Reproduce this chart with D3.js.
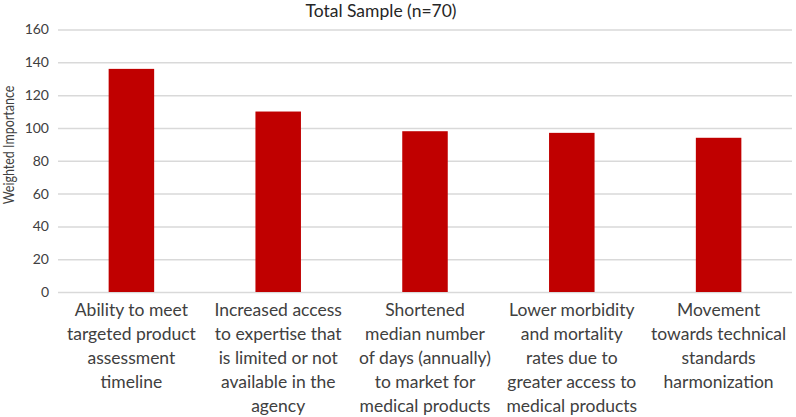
<!DOCTYPE html>
<html><head><meta charset="utf-8">
<script src="https://cdn.jsdelivr.net/npm/d3@7"></script>
<style>body{margin:0;background:#fff}svg{display:block}text{font-family:Lato,"Open Sans",sans-serif;fill:#262626}</style>
</head><body><svg id="c" width="796" height="417"></svg>
<script>
const categories = [
  ["Ability to meet","targeted product","assessment","timeline"],
  ["Increased access","to expertise that","is limited or not","available in the","agency"],
  ["Shortened","median number","of days (annually)","to market for","medical products"],
  ["Lower morbidity","and mortality","rates due to","greater access to","medical products"],
  ["Movement","towards technical","standards","harmonization"]
];
const values = [136, 110, 98, 97, 94];
const yTicks = [0,20,40,60,80,100,120,140,160];
const title = "Total Sample (n=70)";
const yTitle = "Weighted Importance";

(function(){
const svg = d3.select("#c");
const mL = 58, mR = 792, mT = 29.5, mB = 292;
const x = d3.scaleBand().domain(d3.range(values.length)).range([mL, mR]).paddingInner(0.69).paddingOuter(0.345);
const y = d3.scaleLinear().domain([0,160]).range([mB, mT]);

const yAxis = d3.axisLeft(y).tickValues(yTicks).tickSize(-(mR-mL)).tickPadding(9);
const g = svg.append("g").attr("transform",`translate(${mL},0)`).call(yAxis);
g.select(".domain").remove();
g.selectAll(".tick line").attr("stroke","#d9d9d9").attr("stroke-width",1.5);
g.selectAll(".tick text").style("font-size","14px").style("font-family","Lato, sans-serif").style("fill","#404040");

svg.append("g").selectAll("rect").data(values).join("rect")
  .attr("x",(d,i)=>x(i)).attr("width",x.bandwidth())
  .attr("y",d=>y(d)).attr("height",d=>y(0)-y(d))
  .attr("fill","#c00000");

const lab = svg.append("g").selectAll("text").data(categories).join("text")
  .attr("text-anchor","middle").style("font-size","17.5px")
  .style("fill","#404040");
lab.each(function(lines,i){
  const t = d3.select(this);
  lines.forEach((l,k)=>t.append("tspan").attr("x",x(i)+x.bandwidth()/2).attr("y",316+k*24).text(l));
});

svg.append("text").attr("x",381).attr("y",17).attr("text-anchor","middle").style("font-size","17.5px").text(title);
svg.append("text").attr("transform","translate(14,145) rotate(-90) scale(1,1.25)").attr("text-anchor","middle").style("font-size","12.5px").style("fill","#404040").text(yTitle);
})();
</script></body></html>
